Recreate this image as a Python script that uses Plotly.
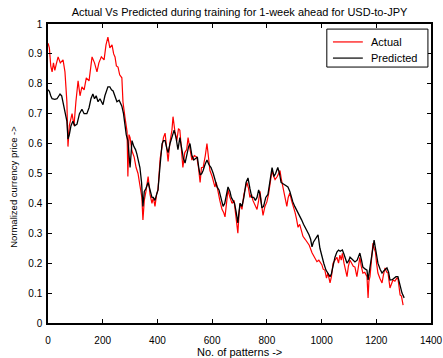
import plotly.graph_objects as go

# Actual series (pattern index, normalized price)
actual_x = [0, 5, 10, 15, 20, 25, 30, 37, 45, 55, 62, 69, 73, 78, 88, 95, 102, 110, 117, 124,
            132, 140, 150, 161, 170, 179, 186, 195, 205, 212, 219, 226, 234, 240, 245, 250, 256, 262, 270, 274,
            281, 285, 289, 292, 296, 300, 307, 315, 322, 329, 336, 343, 347, 352, 358, 366, 373, 380, 385, 391,
            397, 402, 410, 417, 422, 428, 433, 439, 445, 453, 457, 464, 471, 477, 482, 488, 493, 500, 507, 512,
            519, 526, 535, 544, 550, 556, 561, 567, 575, 581, 586, 592, 600, 610, 615, 621, 628, 636, 642, 647,
            652, 658, 665, 673, 680, 686, 690, 694, 698, 702, 709, 716, 727, 733, 738, 744, 749, 755, 764, 770,
            775, 780, 786, 793, 800, 806, 813, 819, 825, 830, 838, 848, 853, 859, 866, 873, 878, 884, 890, 897,
            903, 908, 914, 920, 926, 932, 940, 947, 955, 965, 975, 983, 990, 1001, 1006, 1012, 1018, 1023, 1031, 1036,
            1042, 1049, 1056, 1062, 1067, 1072, 1076, 1082, 1088, 1093, 1098, 1104, 1110, 1116, 1122, 1129, 1135, 1140, 1145, 1151,
            1158, 1166, 1170, 1173, 1177, 1182, 1188, 1192, 1197, 1201, 1206, 1213, 1221, 1226, 1232, 1238, 1243, 1250, 1255, 1261,
            1268, 1275, 1279, 1283, 1287, 1292, 1298]
actual_y = [0.936, 0.92, 0.86, 0.84, 0.87, 0.845, 0.865, 0.89, 0.87, 0.88, 0.84, 0.74, 0.59, 0.66, 0.70, 0.66, 0.74, 0.81, 0.76, 0.79,
            0.78, 0.82, 0.81, 0.89, 0.87, 0.84, 0.87, 0.89, 0.88, 0.93, 0.956, 0.92, 0.93, 0.90, 0.89, 0.86, 0.856, 0.83, 0.82, 0.74,
            0.69, 0.66, 0.64, 0.49, 0.63, 0.62, 0.575, 0.555, 0.52, 0.50, 0.46, 0.42, 0.345, 0.41, 0.44, 0.49, 0.43, 0.40, 0.42, 0.39,
            0.43, 0.445, 0.55, 0.60, 0.62, 0.635, 0.60, 0.54, 0.60, 0.645, 0.69, 0.64, 0.61, 0.65, 0.645, 0.58, 0.52, 0.57, 0.58, 0.62,
            0.58, 0.545, 0.56, 0.555, 0.52, 0.47, 0.52, 0.52, 0.56, 0.60, 0.56, 0.51, 0.49, 0.455, 0.47, 0.435, 0.41, 0.38, 0.37, 0.355,
            0.40, 0.445, 0.42, 0.40, 0.41, 0.36, 0.33, 0.30, 0.36, 0.40, 0.38, 0.43, 0.47, 0.45, 0.42, 0.43, 0.41, 0.40, 0.38, 0.41,
            0.44, 0.40, 0.36, 0.39, 0.405, 0.43, 0.47, 0.51, 0.49, 0.48, 0.49, 0.51, 0.48, 0.455, 0.43, 0.39, 0.42, 0.435, 0.41, 0.39,
            0.37, 0.35, 0.32, 0.33, 0.31, 0.29, 0.28, 0.27, 0.26, 0.235, 0.22, 0.205, 0.21, 0.195, 0.18, 0.177, 0.15, 0.167, 0.134, 0.155,
            0.20, 0.21, 0.22, 0.20, 0.227, 0.21, 0.233, 0.20, 0.17, 0.155, 0.19, 0.21, 0.20, 0.19, 0.187, 0.155, 0.19, 0.22, 0.19, 0.167,
            0.17, 0.155, 0.084, 0.14, 0.155, 0.21, 0.267, 0.25, 0.237, 0.20, 0.167, 0.15, 0.134, 0.16, 0.184, 0.17, 0.167, 0.117, 0.13, 0.144,
            0.14, 0.15, 0.15, 0.12, 0.094, 0.09, 0.06]

# Predicted series (pattern index, normalized price)
pred_x = [0, 5, 10, 15, 25, 33, 40, 44, 50, 55, 62, 69, 73, 78, 84, 91, 98, 106, 115, 124,
          132, 142, 150, 157, 164, 170, 176, 183, 190, 196, 201, 208, 214, 219, 226, 232, 238, 245, 252, 260,
          266, 270, 276, 281, 286, 292, 296, 300, 304, 307, 314, 320, 325, 331, 336, 342, 347, 352, 358, 366,
          373, 380, 385, 391, 397, 402, 410, 417, 422, 428, 434, 439, 446, 453, 461, 468, 475, 482, 488, 495,
          501, 508, 514, 519, 526, 533, 540, 546, 551, 556, 562, 567, 574, 581, 588, 596, 604, 611, 618, 625,
          632, 640, 646, 652, 658, 665, 670, 676, 682, 688, 694, 698, 702, 709, 716, 724, 731, 738, 745, 752,
          758, 764, 770, 775, 782, 788, 796, 804, 812, 819, 826, 832, 840, 846, 852, 860, 867, 877, 884, 890,
          895, 902, 908, 914, 920, 927, 934, 940, 947, 954, 960, 965, 970, 977, 987, 994, 1001, 1008, 1016, 1024,
          1031, 1036, 1042, 1049, 1056, 1062, 1068, 1076, 1082, 1093, 1100, 1104, 1110, 1122, 1130, 1140, 1146, 1151, 1160, 1166,
          1170, 1176, 1182, 1188, 1192, 1197, 1201, 1206, 1214, 1221, 1228, 1239, 1245, 1250, 1258, 1265, 1272, 1279, 1285, 1290,
          1294, 1302]
pred_y = [0.78, 0.775, 0.76, 0.75, 0.748, 0.75, 0.76, 0.766, 0.76, 0.74, 0.71, 0.675, 0.615, 0.63, 0.66, 0.675, 0.66, 0.665, 0.70, 0.715,
          0.70, 0.70, 0.72, 0.75, 0.766, 0.75, 0.76, 0.74, 0.75, 0.74, 0.73, 0.76, 0.78, 0.79, 0.79, 0.78, 0.776, 0.76, 0.74, 0.745,
          0.73, 0.725, 0.70, 0.655, 0.63, 0.61, 0.57, 0.52, 0.57, 0.61, 0.59, 0.58, 0.565, 0.54, 0.52, 0.47, 0.39, 0.44, 0.45, 0.47,
          0.44, 0.42, 0.42, 0.41, 0.43, 0.445, 0.53, 0.60, 0.61, 0.61, 0.585, 0.57, 0.60, 0.62, 0.645, 0.62, 0.58, 0.62, 0.59, 0.55,
          0.535, 0.57, 0.59, 0.60, 0.56, 0.545, 0.55, 0.555, 0.52, 0.495, 0.50, 0.51, 0.53, 0.545, 0.53, 0.52, 0.50, 0.48, 0.455, 0.445,
          0.42, 0.39, 0.40, 0.43, 0.455, 0.44, 0.42, 0.41, 0.40, 0.37, 0.335, 0.37, 0.40, 0.39, 0.42, 0.47, 0.485, 0.45, 0.42, 0.42,
          0.41, 0.42, 0.445, 0.43, 0.385, 0.39, 0.42, 0.43, 0.48, 0.52, 0.49, 0.50, 0.52, 0.50, 0.47, 0.465, 0.46, 0.455, 0.44, 0.42,
          0.405, 0.39, 0.38, 0.37, 0.355, 0.345, 0.33, 0.32, 0.31, 0.295, 0.28, 0.255, 0.27, 0.28, 0.295, 0.25, 0.22, 0.20, 0.177, 0.165,
          0.155, 0.165, 0.19, 0.22, 0.237, 0.244, 0.24, 0.244, 0.23, 0.20, 0.21, 0.22, 0.215, 0.204, 0.21, 0.234, 0.21, 0.187, 0.18, 0.177,
          0.144, 0.18, 0.21, 0.25, 0.277, 0.25, 0.22, 0.20, 0.18, 0.167, 0.175, 0.184, 0.17, 0.144, 0.145, 0.15, 0.155, 0.155, 0.13, 0.11,
          0.10, 0.084]

series_names = ["Actual", "Predicted"]
series_colors = ["#ff0000", "#000000"]

x_ticks = [0, 200, 400, 600, 800, 1000, 1200, 1400]
y_ticks = [0, 0.1, 0.2, 0.3, 0.4, 0.5, 0.6, 0.7, 0.8, 0.9, 1]

font_main = "Liberation Sans, Arial, sans-serif"

fig = go.Figure()
fig.add_trace(go.Scatter(x=actual_x, y=actual_y, mode="lines", name=series_names[0],
                         line=dict(color=series_colors[0], width=1.2), showlegend=False))
fig.add_trace(go.Scatter(x=pred_x, y=pred_y, mode="lines", name=series_names[1],
                         line=dict(color=series_colors[1], width=1.3), showlegend=False))

axis_common = dict(showline=True, linecolor="black", linewidth=1.5, mirror="ticks",
                   ticks="inside", ticklen=4, tickwidth=1, tickcolor="black",
                   showgrid=False, zeroline=False, automargin=False,
                   tickfont=dict(family=font_main, size=10, color="black"))

fig.update_xaxes(range=[0, 1400], tickvals=x_ticks,
                 ticktext=[str(v) for v in x_ticks],
                 ticklabelstandoff=7,
                 **axis_common)
fig.update_yaxes(range=[0, 1], tickvals=y_ticks,
                 ticktext=["0" if v == 0 else ("1" if v == 1 else f"{v:.1f}") for v in y_ticks],
                 ticklabelstandoff=2,
                 **axis_common)

# Axis titles placed as annotations in paper coordinates
fig.add_annotation(text="No. of patterns ->", xref="paper", yref="paper",
                   x=0.5, y=-0.097, xanchor="center", yanchor="middle", showarrow=False,
                   font=dict(family=font_main, size=11, color="black"))
fig.add_annotation(text="Normalized currency price ->", xref="paper", yref="paper",
                   x=-0.089, y=0.455, xanchor="center", yanchor="middle", showarrow=False,
                   textangle=-90,
                   font=dict(family=font_main, size=9.5, color="black"))

# Boxed legend in the upper right corner of the axes
legend_box = dict(x0=0.728, x1=0.992, y0=0.856, y1=0.983)
legend_rows = [0.940, 0.886]
fig.add_shape(type="rect", xref="paper", yref="paper", **legend_box,
              line=dict(color="black", width=1), fillcolor="white", layer="above")
for name, color, row in zip(series_names, series_colors, legend_rows):
    fig.add_shape(type="line", xref="paper", yref="paper",
                  x0=0.744, x1=0.822, y0=row, y1=row,
                  line=dict(color=color, width=1.2), layer="above")
    fig.add_annotation(text=name, xref="paper", yref="paper",
                       x=0.838, y=row, xanchor="left", yanchor="middle", showarrow=False,
                       font=dict(family=font_main, size=11, color="black"))

fig.update_layout(
    width=443, height=358,
    margin=dict(l=48, r=12, t=24, b=35),
    paper_bgcolor="white", plot_bgcolor="white",
    title=dict(text="Actual Vs Predicted during training for 1-week ahead for USD-to-JPY",
               xref="paper", x=0.5, xanchor="center", y=0.965, yanchor="middle",
               font=dict(family=font_main, size=11, color="black")),
    showlegend=False,
)

fig.write_html("out.html")
